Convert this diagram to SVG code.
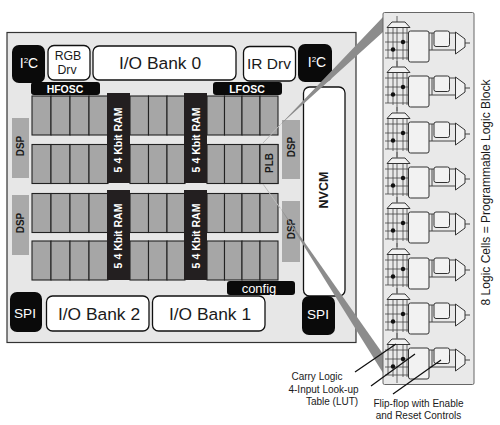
<svg xmlns="http://www.w3.org/2000/svg" xmlns:xlink="http://www.w3.org/1999/xlink" width="500" height="425" viewBox="0 0 500 425">
<style>
text{font-family:"Liberation Sans",Arial,sans-serif;text-anchor:middle;fill:#1a1a1a}
.w{fill:#fff;stroke:#111;stroke-width:1.3}
.k{fill:#0a0a0a}
.plb{fill:#a6a6a6;stroke:#222;stroke-width:1.1}
.ram{fill:#231f20}
.dsp{fill:#a9a9a9}
.b{font-weight:bold}
.wt{fill:#fff}
.c{fill:none;stroke:#444;stroke-width:.8}
.cf{fill:#f2f2f2;stroke:#333;stroke-width:1}
.lbl{font-size:10px}
.ptr{stroke:#111;stroke-width:1.3;fill:none}
</style>
<defs>
<g id="row">
<rect class="plb" x="32" y="0" width="19" height="39"/><rect class="plb" x="51" y="0" width="19" height="39"/><rect class="plb" x="70" y="0" width="19" height="39"/><rect class="plb" x="89" y="0" width="19" height="39"/>
<rect class="plb" x="130" y="0" width="18.500" height="39"/><rect class="plb" x="148.500" y="0" width="18.500" height="39"/><rect class="plb" x="167" y="0" width="18" height="39"/>
<rect class="plb" x="207" y="0" width="17.500" height="39"/><rect class="plb" x="224.500" y="0" width="17.500" height="39"/><rect class="plb" x="242" y="0" width="18" height="39"/><rect class="plb" x="260" y="0" width="18" height="39"/>
</g>
<g id="cell">
<path class="c" d="M397 16V22M397 60V66"/>
<path class="c" d="M388 28V58M393 28V60M397 28V60M403 28V60M407 28V60M385 33H409M385 42H409M385 50H409M385 58H409"/>
<path class="cf" d="M387 27.500L392 22H405L410 27.500Z"/>
<circle cx="393" cy="49.500" r="2.200" fill="#111"/><circle cx="403" cy="42" r="2.200" fill="#111"/>
<rect class="cf" x="408.500" y="31" width="20.500" height="31" rx="2"/>
<rect class="cf" x="434" y="31" width="15.500" height="15.500" rx="2"/>
<path class="c" d="M429 33H434M449.500 33H455M449.500 33V38M429 50H455.500M465 43H470M432 33V50" style="stroke-width:1"/>
<path class="cf" d="M455.500 32L465 39V47L455.500 54Z"/>
</g>
</defs>
<rect x="0" y="0" width="500" height="425" fill="#fff"/>
<g id="chip">
<rect x="7" y="32.500" width="349" height="310" fill="#e7e7e7" stroke="#333" stroke-width="1.200"/>
</g>
<g id="plb-array">
<use xlink:href="#row" href="#row" y="96"/>
<use xlink:href="#row" href="#row" y="144.500"/>
<use xlink:href="#row" href="#row" y="193.500"/>
<use xlink:href="#row" href="#row" y="241"/>
</g>
<g id="ram-1"><rect class="ram" x="107" y="93" width="23" height="90"/><text class="b wt" font-size="10.500" transform="translate(122,140) rotate(-90)">5 4 Kbit RAM</text></g>
<g id="ram-2"><rect class="ram" x="184" y="93" width="23" height="90"/><text class="b wt" font-size="10.500" transform="translate(200,140) rotate(-90)">5 4 Kbit RAM</text></g>
<g id="ram-3"><rect class="ram" x="107" y="190" width="23" height="90"/><text class="b wt" font-size="10.500" transform="translate(122,236) rotate(-90)">5 4 Kbit RAM</text></g>
<g id="ram-4"><rect class="ram" x="184" y="190" width="23" height="90"/><text class="b wt" font-size="10.500" transform="translate(200,236) rotate(-90)">5 4 Kbit RAM</text></g>
<g id="i2c-left"><rect class="k" x="12" y="45" width="33" height="38" rx="7"/><text class="wt" x="29" y="68" font-size="14">I<tspan font-size="8" dy="-5">2</tspan><tspan dy="5">C</tspan></text></g>
<g id="rgb-drv"><rect class="w" x="48" y="45.500" width="42" height="34.500" rx="6"/><text x="68" y="59.500" font-size="12.300">RGB</text><text x="67" y="73.500" font-size="12.300">Drv</text></g>
<g id="io-bank-0"><rect class="w" x="93" y="46" width="143" height="34" rx="6"/><text x="160" y="68.500" font-size="17.400">I/O Bank 0</text></g>
<g id="ir-drv"><rect class="w" x="243.500" y="46.500" width="52" height="34.500" rx="6"/><text x="269" y="69" font-size="15.500">IR Drv</text></g>
<g id="i2c-right"><rect class="k" x="298" y="44" width="34" height="38" rx="7"/><text class="wt" x="317" y="67" font-size="14">I<tspan font-size="8" dy="-5">2</tspan><tspan dy="5">C</tspan></text></g>
<g id="hfosc"><rect class="k" x="31" y="82" width="69" height="13" rx="3"/><text class="b wt" x="65" y="93" font-size="10.500">HFOSC</text></g>
<g id="lfosc"><rect class="k" x="213" y="82" width="69" height="13" rx="3"/><text class="b wt" x="247" y="93" font-size="10.500">LFOSC</text></g>
<g id="dsp-1"><rect class="dsp" x="12" y="118" width="17" height="60"/><text class="b" font-size="10" transform="translate(24,146) rotate(-90)">DSP</text></g>
<g id="dsp-2"><rect class="dsp" x="12" y="195" width="17" height="60"/><text class="b" font-size="10" transform="translate(24,223) rotate(-90)">DSP</text></g>
<g id="nvcm"><rect class="w" x="303.500" y="87" width="41.500" height="209" rx="6"/><text class="b" font-size="12.500" transform="translate(328,190) rotate(-90)">NVCM</text></g>
<g id="config"><rect class="k" x="227" y="281" width="68" height="14" rx="3"/><text class="wt" x="259" y="292.500" font-size="13">config</text></g>
<g id="spi-left"><rect class="k" x="10" y="292" width="32" height="40" rx="7"/><text class="wt" x="25" y="318" font-size="13.600">SPI</text></g>
<g id="io-bank-2"><rect class="w" x="46.500" y="296" width="102.500" height="35" rx="6"/><text x="99" y="320" font-size="17.400">I/O Bank 2</text></g>
<g id="io-bank-1"><rect class="w" x="152.500" y="296" width="112.500" height="35" rx="6"/><text x="210" y="320" font-size="17.400">I/O Bank 1</text></g>
<g id="spi-right"><rect class="k" x="302" y="296" width="33" height="39" rx="7"/><text class="wt" x="318" y="319" font-size="13.600">SPI</text></g>
<g id="dsp-3"><rect class="dsp" x="282" y="120" width="18" height="59"/><text class="b" font-size="10" transform="translate(295,147) rotate(-90)">DSP</text></g>
<g id="dsp-4"><rect class="dsp" x="282" y="201" width="18" height="61"/><text class="b" font-size="10" transform="translate(295,229) rotate(-90)">DSP</text></g>
<g id="plb"><rect class="plb" x="260" y="144.500" width="18" height="39"/><text class="b" font-size="10" transform="translate(273,163) rotate(-90)">PLB</text></g>
<g id="connectors">
<path d="M278 127L383 17V32L280 125Z" fill="#8c8c8c"/>
<path d="M263 143L280 125" stroke="#bbb" stroke-width="1" fill="none"/>
<path d="M263 184L280 208" stroke="#bbb" stroke-width="1" fill="none"/>
<path d="M279 206L383 354V373Z" fill="#8c8c8c"/>
</g>
<g id="logic-block">
<rect x="383" y="12.500" width="91" height="372" rx="1.500" fill="#e9e9e9" stroke="#666" stroke-width="1"/>
<use xlink:href="#cell" href="#cell" y="0"/>
<use xlink:href="#cell" href="#cell" y="45"/>
<use xlink:href="#cell" href="#cell" y="91"/>
<use xlink:href="#cell" href="#cell" y="136"/>
<use xlink:href="#cell" href="#cell" y="181"/>
<use xlink:href="#cell" href="#cell" y="227"/>
<use xlink:href="#cell" href="#cell" y="272"/>
<use xlink:href="#cell" href="#cell" y="317"/>
</g>
<g id="pointers">
<path class="ptr" d="M355 372L396 344M371 386L415 354M393 394L441 360"/>
</g>
<text id="label-block" font-size="12" transform="translate(490,192.500) rotate(-90)">8 Logic Cells = Programmable Logic Block</text>
<text id="label-carry" class="lbl" x="317" y="380">Carry Logic</text>
<text id="label-lut1" class="lbl" x="323.500" y="393">4-Input Look-up</text>
<text id="label-lut2" class="lbl" x="332" y="405">Table (LUT)</text>
<text id="label-ff1" class="lbl" x="418.500" y="407">Flip-flop with Enable</text>
<text id="label-ff2" class="lbl" x="418.500" y="419">and Reset Controls</text>
</svg>
